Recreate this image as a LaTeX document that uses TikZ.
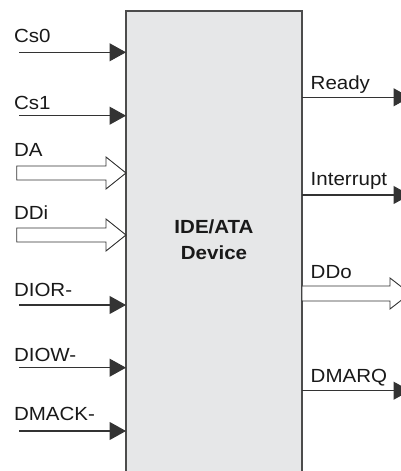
\documentclass[tikz,border=0pt]{standalone}
\usepackage{fontspec}
\setmainfont{Liberation Sans}[FakeStretch=1.08]
\usetikzlibrary{arrows.meta}
\definecolor{devgray}{HTML}{E6E7E8}
\definecolor{inkgray}{HTML}{333333}

\begin{document}
\begin{tikzpicture}[
  x=1pt, y=1pt,
  every node/.style={font=\fontsize{19}{25.7}\selectfont, text=black!90, inner sep=0pt, outer sep=0pt},
  device/.style={rectangle, draw=black!70, line width=1.4pt, fill=devgray, anchor=north west, minimum width=176pt, minimum height=470pt},
  pin/.style={anchor=base west},
  wire/.style={draw=inkgray, line width=1.1pt, -{Triangle[length=16.5pt, width=18pt]}},
  bus/.style={draw=inkgray, line width=0.9pt, fill=white, line join=miter}
]
\useasboundingbox (0,0) rectangle (401,471);

% --- DEVICE BLOCK ---
\node[device] (box) at (126,460) {};
\node[font=\fontsize{19}{25.7}\selectfont\bfseries, align=center] (name) at (214,231) {IDE/ATA\\Device};

% --- INPUTS ---
\node[pin] (cs0) at (14,428.7) {Cs0};
\coordinate (cs0in) at (19,418.7);
\draw[wire] (cs0in) -- (box.west |- cs0in);

\node[pin] (cs1) at (14,361) {Cs1};
\coordinate (cs1in) at (19,355.3);
\draw[wire] (cs1in) -- (box.west |- cs1in);

\node[pin] (da) at (14,314) {DA};
\coordinate (dain) at (16.7,298);
\draw[bus] (dain) ++(0,7) -| ++(89.3,9) -- (box.west |- dain) -- ++(-20,-16) |- ++(-89.3,9) -- cycle;

\node[pin] (ddi) at (14,251) {DDi};
\coordinate (ddiin) at (16.7,236);
\draw[bus] (ddiin) ++(0,7) -| ++(89.3,9) -- (box.west |- ddiin) -- ++(-20,-16) |- ++(-89.3,9) -- cycle;

\node[pin] (dior) at (14,174.3) {DIOR-};
\coordinate (diorin) at (19,166);
\draw[wire] (diorin) -- (box.west |- diorin);

\node[pin] (diow) at (14,109.3) {DIOW-};
\coordinate (diowin) at (19,103.3);
\draw[wire] (diowin) -- (box.west |- diowin);

\node[pin] (dmack) at (14,50.3) {DMACK-};
\coordinate (dmackin) at (19,40);
\draw[wire] (dmackin) -- (box.west |- dmackin);

% --- OUTPUTS ---
\node[pin] (ready) at (310.7,381.7) {Ready};
\coordinate (readyout) at (410,373.7);
\draw[wire] (box.east |- readyout) -- (readyout);

\node[pin] (intr) at (310.7,285.3) {Interrupt};
\coordinate (introut) at (410,276);
\draw[wire] (box.east |- introut) -- (introut);

\node[pin] (ddo) at (310.7,192.7) {DDo};
\coordinate (ddoout) at (410,177.5);
\draw[bus] (box.east |- ddoout) ++(0,7.5) -| ++(88,8) -- (ddoout) -- ++(-20,-15.5) |- ++(-88,8) -- cycle;

\node[pin] (dmarq) at (310.7,88.3) {DMARQ};
\coordinate (dmarqout) at (410,80.3);
\draw[wire] (box.east |- dmarqout) -- (dmarqout);

\end{tikzpicture}
\end{document}
